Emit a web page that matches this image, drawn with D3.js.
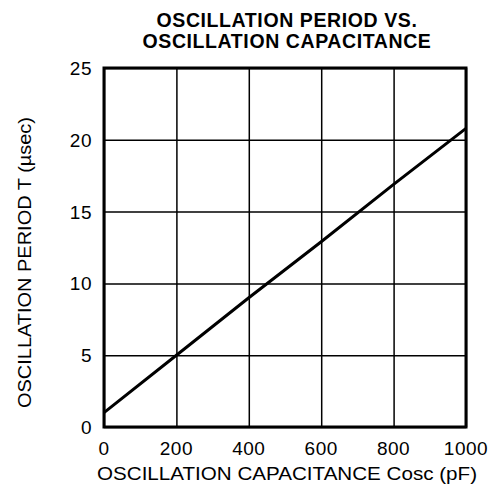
<!DOCTYPE html>
<html>
<head>
<meta charset="utf-8">
<script src="https://d3js.org/d3.v7.min.js"></script>
<style>
  body { margin: 0; background: #fff; }
  text { font-family: "Liberation Sans", Arial, sans-serif; fill: #000; }
  .grid line { stroke: #000; stroke-width: 1.5; }
  .grid path { display: none; }
</style>
</head>
<body>
<svg id="chart"></svg>
<script>
// capacitance (pF) vs period (usec)
var capacitance = [0, 200, 400, 600, 800, 1000];
var period = [1, 5, 9, 12.9, 16.9, 20.8];
var xTicks = [0, 200, 400, 600, 800, 1000];
var yTicks = [0, 5, 10, 15, 20, 25];
var titleLines = ["OSCILLATION PERIOD VS.", "OSCILLATION CAPACITANCE"];

var data = capacitance.map(function(c, i) { return {c: c, t: period[i]}; });

var margin = {top: 68, right: 23, bottom: 64, left: 104},
    width = 489 - margin.left - margin.right,
    height = 491 - margin.top - margin.bottom;

var x = d3.scaleLinear().domain([0, 1000]).range([0, width]);
var y = d3.scaleLinear().domain([0, 25]).range([height, 0]);

var root = d3.select("#chart")
    .attr("width", 489)
    .attr("height", 491);

var svg = root.append("g")
    .attr("transform", "translate(" + margin.left + "," + margin.top + ")");

// title
root.append("g").selectAll("text")
    .data(titleLines)
    .enter().append("text")
    .attr("x", 287)
    .attr("y", function(d, i) { return 26.5 + i * 21; })
    .attr("text-anchor", "middle")
    .style("font-weight", "bold")
    .style("font-size", "19.5px")
    .style("letter-spacing", "0.6px")
    .text(function(d) { return d; });

// gridlines
svg.append("g")
    .attr("class", "grid")
    .attr("transform", "translate(0," + height + ")")
    .call(d3.axisBottom(x).tickValues(xTicks).tickSize(-height).tickFormat(""));

svg.append("g")
    .attr("class", "grid")
    .call(d3.axisLeft(y).tickValues(yTicks).tickSize(-width).tickFormat(""));

// frame
svg.append("rect")
    .attr("width", width)
    .attr("height", height)
    .attr("fill", "none")
    .attr("stroke", "#000")
    .attr("stroke-width", 3);

// the line
var line = d3.line()
    .x(function(d) { return x(d.c); })
    .y(function(d) { return y(d.t); });

svg.append("path")
    .datum(data)
    .attr("fill", "none")
    .attr("stroke", "#000")
    .attr("stroke-width", 3)
    .attr("d", line);

// tick labels
svg.append("g").selectAll("text")
    .data(xTicks)
    .enter().append("text")
    .attr("x", function(d) { return x(d); })
    .attr("y", height + 28)
    .attr("text-anchor", "middle")
    .style("font-size", "19px")
    .style("letter-spacing", "0.5px")
    .text(function(d) { return d; });

svg.append("g").selectAll("text")
    .data(yTicks)
    .enter().append("text")
    .attr("x", -12)
    .attr("y", function(d) { return y(d) + 7; })
    .attr("text-anchor", "end")
    .style("font-size", "19px")
    .style("letter-spacing", "0.5px")
    .text(function(d) { return d; });

// axis titles
root.append("text")
    .attr("x", 97)
    .attr("y", 480)
    .attr("textLength", 380)
    .attr("lengthAdjust", "spacingAndGlyphs")
    .style("font-size", "18.5px")
    .text("OSCILLATION CAPACITANCE Cosc (pF)");

root.append("text")
    .attr("transform", "translate(31,408) rotate(-90)")
    .attr("textLength", 291)
    .attr("lengthAdjust", "spacingAndGlyphs")
    .style("font-size", "18.5px")
    .text("OSCILLATION PERIOD T (\u00b5sec)");
</script>
</body>
</html>
